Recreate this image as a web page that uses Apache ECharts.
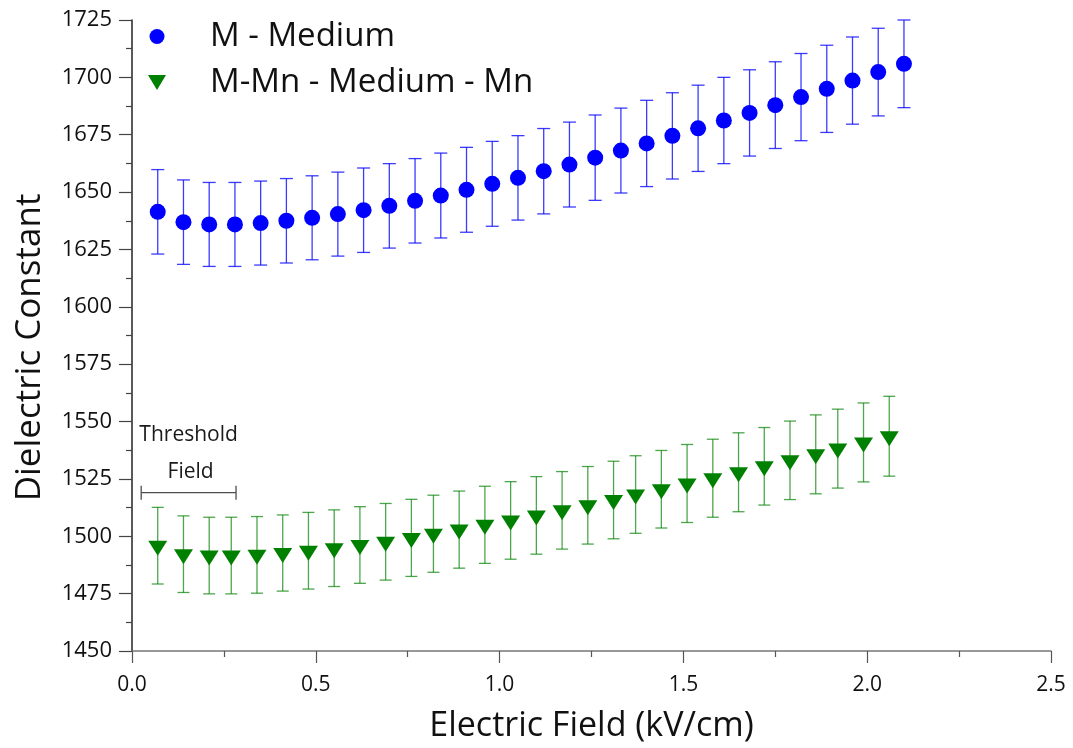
<!DOCTYPE html>
<html>
<head>
<meta charset="utf-8">
<title>Dielectric Constant vs Electric Field</title>
<script src="https://cdn.jsdelivr.net/npm/echarts@6/dist/echarts.min.js"></script>
<style>
  html, body { margin: 0; padding: 0; background: #ffffff; }
  #chart { width: 1073px; height: 748px; }
</style>
</head>
<body>
<div id="chart"></div>
<script>
// Electric field (kV/cm), dielectric constant and its ± error for each sample
const mediumX = [0.07, 0.14, 0.21, 0.28, 0.35, 0.42, 0.49, 0.56, 0.63, 0.70,
                 0.77, 0.84, 0.91, 0.98, 1.05, 1.12, 1.19, 1.26, 1.33, 1.40,
                 1.47, 1.54, 1.61, 1.68, 1.75, 1.82, 1.89, 1.96, 2.03, 2.10];
const mediumY = [1641.4, 1636.9, 1635.9, 1635.9, 1636.5, 1637.5, 1638.8, 1640.4, 1642.1, 1644.0,
                 1646.2, 1648.5, 1651.0, 1653.6, 1656.2, 1659.1, 1662.0, 1665.0, 1668.1, 1671.2,
                 1674.5, 1677.8, 1681.2, 1684.5, 1687.9, 1691.4, 1695.0, 1698.6, 1702.3, 1705.9];
const mediumErr = [18.4, 18.4, 18.3, 18.3, 18.3, 18.4, 18.3, 18.3, 18.4, 18.4,
                   18.4, 18.5, 18.5, 18.5, 18.4, 18.6, 18.5, 18.6, 18.5, 18.8,
                   18.8, 18.8, 18.8, 18.8, 18.9, 19.0, 19.0, 19.0, 19.1, 19.1];

const mnX = [0.07, 0.14, 0.21, 0.27, 0.34, 0.41, 0.48, 0.55, 0.62, 0.69,
             0.76, 0.82, 0.89, 0.96, 1.03, 1.10, 1.17, 1.24, 1.31, 1.37,
             1.44, 1.51, 1.58, 1.65, 1.72, 1.79, 1.86, 1.92, 1.99, 2.06];
const mnY = [1495.9, 1492.2, 1491.6, 1491.6, 1491.9, 1492.7, 1493.7, 1494.8, 1496.2, 1497.6,
             1499.3, 1501.1, 1502.9, 1505.0, 1506.9, 1509.1, 1511.3, 1513.5, 1515.8, 1518.2,
             1520.5, 1523.0, 1525.3, 1527.9, 1530.5, 1533.1, 1535.7, 1538.2, 1540.9, 1543.6];
const mnErr = [16.7, 16.7, 16.7, 16.7, 16.7, 16.6, 16.7, 16.7, 16.7, 16.7,
               16.8, 16.8, 16.8, 16.8, 16.9, 16.9, 16.9, 16.9, 16.9, 16.9,
               16.9, 17.0, 17.0, 17.2, 16.9, 17.1, 17.2, 17.2, 17.2, 17.4];

const seriesNames = ['M - Medium', 'M-Mn - Medium - Mn'];

// Threshold field bracket: [start field, end field, dielectric level]
const thresholdBracket = [0.025, 0.283, 1519];
const thresholdLabel = ['Threshold', 'Field'];

const FONT = '"Open Sans", "DejaVu Sans", sans-serif';

const zip = (xs, ys, es) => xs.map((x, i) => es ? [x, ys[i], es[i]] : [x, ys[i]]);

function errorBarRenderer(color, capHalf) {
  return function (params, api) {
    const x = api.value(0), y = api.value(1), e = api.value(2);
    const top = api.coord([x, y + e]);
    const bot = api.coord([x, y - e]);
    const style = { stroke: color, lineWidth: 1.3 };
    return {
      type: 'group',
      children: [
        { type: 'line', shape: { x1: top[0], y1: top[1], x2: bot[0], y2: bot[1] }, style },
        { type: 'line', shape: { x1: top[0] - capHalf, y1: top[1], x2: top[0] + capHalf, y2: top[1] }, style },
        { type: 'line', shape: { x1: bot[0] - capHalf, y1: bot[1], x2: bot[0] + capHalf, y2: bot[1] }, style }
      ]
    };
  };
}

function bracketRenderer(params, api) {
  const a = api.coord([api.value(0), api.value(2)]);
  const b = api.coord([api.value(1), api.value(2)]);
  const cx = (a[0] + b[0]) / 2;
  const style = { stroke: '#4d4d4d', lineWidth: 1.3 };
  return {
    type: 'group',
    children: [
      { type: 'line', shape: { x1: a[0], y1: a[1], x2: b[0], y2: b[1] }, style },
      { type: 'line', shape: { x1: a[0], y1: a[1] - 7, x2: a[0], y2: a[1] + 7 }, style },
      { type: 'line', shape: { x1: b[0], y1: b[1] - 7, x2: b[0], y2: b[1] + 7 }, style },
      { type: 'text', x: cx, y: a[1] - 58,
        style: { text: thresholdLabel[0], fill: '#1a1a1a', font: '21px ' + FONT, align: 'center', verticalAlign: 'middle' } },
      { type: 'text', x: cx + 2, y: a[1] - 21,
        style: { text: thresholdLabel[1], fill: '#1a1a1a', font: '21px ' + FONT, align: 'center', verticalAlign: 'middle' } }
    ]
  };
}

const chart = echarts.init(document.getElementById('chart'), null, { renderer: 'canvas' });

chart.setOption({
  animation: false,
  backgroundColor: '#ffffff',
  textStyle: { fontFamily: FONT },
  grid: { left: 132, right: 22, top: 20, bottom: 96, containLabel: false },
  legend: {
    orient: 'vertical',
    left: 143,
    top: 15,
    padding: 5,
    itemWidth: 18,
    itemHeight: 15,
    itemGap: 13,
    data: [
      { name: seriesNames[0], icon: 'circle' },
      { name: seriesNames[1], icon: 'path://M0,0L18,0L9,15Z' }
    ],
    textStyle: { fontSize: 33, lineHeight: 33, color: '#111111', padding: [0, 0, 0, 39], fontFamily: FONT }
  },
  xAxis: {
    type: 'value',
    min: 0,
    max: 2.5,
    interval: 0.5,
    name: 'Electric Field (kV/cm)',
    nameLocation: 'middle',
    nameGap: 58,
    nameTextStyle: { fontSize: 34, color: '#111111' },
    axisLine: { show: true, onZero: false, lineStyle: { color: '#777777', width: 1.5 } },
    axisTick: { show: true, inside: false, length: 12, lineStyle: { color: '#555555', width: 1.2 } },
    minorTick: { show: true, splitNumber: 2, length: 6, lineStyle: { color: '#555555', width: 1.2 } },
    splitLine: { show: false },
    axisLabel: { fontSize: 21, color: '#111111', margin: 24, formatter: v => v.toFixed(1) }
  },
  yAxis: {
    type: 'value',
    min: 1450,
    max: 1725,
    interval: 25,
    name: 'Dielectric Constant',
    nameLocation: 'middle',
    nameGap: 84,
    nameTextStyle: { fontSize: 35, color: '#111111', padding: [0, 24, 0, 0] },
    axisLine: { show: true, onZero: false, lineStyle: { color: '#222222', width: 1.5 } },
    axisTick: { show: true, inside: false, length: 13, lineStyle: { color: '#444444', width: 1.2 } },
    minorTick: { show: true, splitNumber: 2, length: 6, lineStyle: { color: '#444444', width: 1.2 } },
    splitLine: { show: false },
    axisLabel: { fontSize: 22, color: '#111111', margin: 20, formatter: v => String(v) }
  },
  series: [
    {
      name: 'M error',
      type: 'custom',
      renderItem: errorBarRenderer('rgba(10,10,255,0.8)', 6.5),
      data: zip(mediumX, mediumY, mediumErr),
      encode: { x: 0, y: 1 },
      z: 1,
      silent: true
    },
    {
      name: 'M-Mn error',
      type: 'custom',
      renderItem: errorBarRenderer('rgba(0,128,0,0.7)', 6),
      data: zip(mnX, mnY, mnErr),
      encode: { x: 0, y: 1 },
      z: 1,
      silent: true
    },
    {
      name: seriesNames[0],
      type: 'scatter',
      symbol: 'circle',
      symbolSize: 16,
      itemStyle: { color: '#0000ff', opacity: 1 },
      data: zip(mediumX, mediumY),
      z: 3
    },
    {
      name: seriesNames[1],
      type: 'scatter',
      symbol: 'triangle',
      symbolSize: [19, 15],
      symbolRotate: 180,
      symbolOffset: [0, 2.5],
      itemStyle: { color: '#008000', opacity: 1 },
      data: zip(mnX, mnY),
      z: 3
    },
    {
      name: 'threshold',
      type: 'custom',
      renderItem: bracketRenderer,
      data: [thresholdBracket],
      encode: { x: [0, 1], y: 2 },
      z: 2,
      silent: true
    }
  ]
});
</script>
</body>
</html>
